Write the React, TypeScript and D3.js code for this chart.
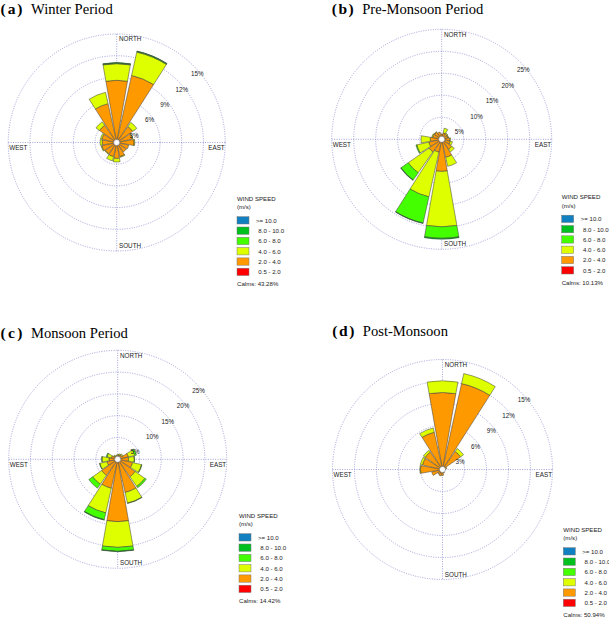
import React from "react";
import * as d3 from "d3";

// ---------------- DATA ----------------
const directions = ["N", "NNE", "NE", "ENE", "E", "ESE", "SE", "SSE", "S", "SSW", "SW", "WSW", "W", "WNW", "NW", "NNW"];
// speed classes from inner (calm side) to outer
const speedClasses = ["0.5 - 2.0", "2.0 - 4.0", "4.0 - 6.0", "6.0 - 8.0", "8.0 - 10.0", ">= 10.0"];
const cardinalLabels = ["NORTH", "EAST", "SOUTH", "WEST"];

// (a) Winter Period (% frequency per direction)
const winter_05_2 = [0, 0, 0, 0, 0, 0, 0, 0, 0, 0, 0, 0, 0, 0, 0, 0];
const winter_2_4 = [8.6, 9.5, 2.7, 2.2, 2.4, 1.7, 1.6, 2.0, 2.2, 2.0, 1.9, 2.1, 2.0, 2.1, 2.9, 5.5];
const winter_4_6 = [2.3, 3.3, 0.7, 0.1, 0.1, 0, 0, 0.1, 0.5, 0.6, 0.1, 0.1, 0.3, 0.2, 0.6, 1.6];
const winter_6_8 = [0.1, 0.1, 0, 0, 0, 0, 0, 0, 0, 0, 0, 0, 0, 0, 0, 0];
const winter_8_10 = [0.05, 0.05, 0, 0, 0, 0, 0, 0, 0, 0, 0, 0, 0, 0, 0, 0];
const winter_10 = [0, 0, 0, 0, 0, 0, 0, 0, 0, 0, 0, 0, 0, 0, 0, 0];
const winterTicks = [3, 6, 9, 12, 15];

// (b) Pre-Monsoon Period
const pre_05_2 = [0, 0, 0, 0, 0, 0, 0, 0, 0, 0, 0, 0, 0, 0, 0, 0];
const pre_2_4 = [1.2, 1.5, 1.5, 1.5, 1.8, 2.0, 2.8, 4.2, 7.3, 3.0, 3.5, 3.0, 2.6, 2.1, 2.0, 1.7];
const pre_4_6 = [0, 1.1, 0.2, 0.1, 0.2, 0.5, 0.7, 2.1, 12.6, 10.4, 5.8, 2.8, 2.1, 0.2, 0.1, 0];
const pre_6_8 = [0, 0, 0, 0, 0, 0, 0, 0, 2.6, 6.1, 2.0, 0.2, 0, 0, 0, 0];
const pre_8_10 = [0, 0, 0, 0, 0, 0, 0, 0, 0.2, 0.1, 0.1, 0, 0, 0, 0, 0];
const pre_10 = [0, 0, 0, 0, 0, 0, 0, 0, 0, 0, 0, 0, 0, 0, 0, 0];
const preTicks = [5, 10, 15, 20, 25];

// (c) Monsoon Period
const mon_05_2 = [0, 0, 0, 0, 0, 0, 0, 0, 0, 0, 0, 0, 0, 0, 0, 0];
const mon_2_4 = [0.8, 1.0, 1.2, 2.5, 2.5, 3.5, 4.9, 7.8, 14.3, 6.8, 4.5, 2.5, 2.0, 1.5, 1.0, 0.8];
const mon_4_6 = [0.3, 0.3, 0.3, 1.5, 1.3, 2.1, 2.7, 2.5, 5.9, 5.8, 2.5, 1.7, 1.6, 1.0, 0.2, 0.1];
const mon_6_8 = [0, 0, 0, 0.4, 0.1, 0.1, 0.4, 0.1, 0.9, 1.6, 1.1, 0.1, 0.1, 0.2, 0, 0];
const mon_8_10 = [0, 0, 0, 0, 0, 0, 0, 0, 0.1, 0.1, 0, 0, 0, 0, 0, 0];
const mon_10 = [0, 0, 0, 0, 0, 0, 0, 0, 0, 0, 0, 0, 0, 0, 0, 0];
const monTicks = [5, 10, 15, 20, 25];

// (d) Post-Monsoon
const post_05_2 = [0, 0, 0, 0, 0, 0, 0, 0, 0, 0, 0, 0, 0, 0, 0, 0];
const post_2_4 = [10.5, 12.0, 3.0, 0.6, 0.4, 0.3, 0.3, 0.5, 0.8, 0.9, 0.8, 1.5, 3.0, 2.8, 2.9, 5.2];
const post_4_6 = [1.6, 1.4, 0.5, 0, 0, 0, 0, 0, 0, 0, 0, 0, 0.1, 0.3, 0.3, 0.6];
const post_6_8 = [0, 0, 0, 0, 0, 0, 0, 0, 0, 0, 0, 0, 0, 0, 0, 0];
const post_8_10 = [0, 0, 0, 0, 0, 0, 0, 0, 0, 0, 0, 0, 0, 0, 0, 0];
const post_10 = [0, 0, 0, 0, 0, 0, 0, 0, 0, 0, 0, 0, 0, 0, 0, 0];
const postTicks = [3, 6, 9, 12, 15];

const calmsValues = ["43.28%", "10.13%", "14.42%", "50.94%"];
const panelLetters = ["(a)", "(b)", "(c)", "(d)"];
const panelTitles = ["Winter Period", "Pre-Monsoon Period", "Monsoon Period", "Post-Monsoon"];

// ---------------- STYLE ----------------
const classColors = ["#ff0000", "#ff9900", "#ddff00", "#44ff00", "#00c020", "#1080c0"];
const ringColor = "#8c8cd0";
const sansFont = "'Liberation Sans', Arial, sans-serif";
const serifFont = "'Liberation Serif', 'Times New Roman', serif";

const panels = [
  {
    series: [winter_05_2, winter_2_4, winter_4_6, winter_6_8, winter_8_10, winter_10],
    ticks: winterTicks, cx: 116.7, cy: 142.5, R: 108.5,
    tx: 0.5, ty: 14, lx: 237, ly: 200.5,
  },
  {
    series: [pre_05_2, pre_2_4, pre_4_6, pre_6_8, pre_8_10, pre_10],
    ticks: preTicks, cx: 441.7, cy: 139.3, R: 110,
    tx: 331.7, ty: 13.5, lx: 561.7, ly: 199,
  },
  {
    series: [mon_05_2, mon_2_4, mon_4_6, mon_6_8, mon_8_10, mon_10],
    ticks: monTicks, cx: 117.7, cy: 459.3, R: 109,
    tx: 0.5, ty: 337.5, lx: 239, ly: 517.5,
  },
  {
    series: [post_05_2, post_2_4, post_4_6, post_6_8, post_8_10, post_10],
    ticks: postTicks, cx: 442.5, cy: 469.5, R: 110,
    tx: 332.3, ty: 336, lx: 563.3, ly: 531.5,
  },
];

const halfWidth = (10 * Math.PI) / 180;
const sector = (2 * Math.PI) / directions.length;

function Rose({ p, i }: { p: any; i: number }) {
  const maxV = p.ticks[p.ticks.length - 1];
  const r = d3.scaleLinear().domain([0, maxV]).range([0, p.R]);
  const arc = d3.arc();
  const segs: any[] = [];
  directions.forEach((dir, di) => {
    let acc = 0;
    const a = di * sector;
    p.series.forEach((s: number[], ci: number) => {
      const v = s[di];
      if (v > 0) {
        segs.push({
          key: `${dir}-${ci}`,
          d: arc({ innerRadius: r(acc), outerRadius: r(acc + v), startAngle: a - halfWidth, endAngle: a + halfWidth } as any),
          fill: classColors[ci],
        });
      }
      acc += v;
    });
  });
  const { cx, cy, R } = p;
  const fs = 6.3;
  return (
    <g>
      {/* title */}
      <text x={p.tx} y={p.ty} fontFamily={serifFont} fontWeight="bold" fontSize={15.5}
        textLength={22} lengthAdjust="spacing">{panelLetters[i]}</text>
      <text x={p.tx + 30.5} y={p.ty} fontFamily={serifFont} fontSize={14.6}>{panelTitles[i]}</text>
      {/* rings */}
      <g transform={`translate(${cx},${cy})`}>
        {p.ticks.map((t: number) => (
          <circle key={t} r={r(t)} fill="none" stroke={ringColor} strokeWidth={0.8} strokeDasharray="1 1.4" />
        ))}
        <line x1={-R} x2={R} y1={0} y2={0} stroke={ringColor} strokeWidth={0.8} strokeDasharray="1 1.4" />
        <line x1={0} x2={0} y1={-R} y2={R} stroke={ringColor} strokeWidth={0.8} strokeDasharray="1 1.4" />
        {segs.map((s) => (
          <path key={s.key} d={s.d} fill={s.fill} stroke="#3a3a3a" strokeWidth={0.5} />
        ))}
        <circle r={3} fill="#ffffff" stroke="#666" strokeWidth={0.5} />
        {p.ticks.map((t: number) => (
          <text key={`l${t}`} x={r(t) * Math.SQRT1_2 - 2.5} y={-r(t) * Math.SQRT1_2 + 10.5}
            fontFamily={sansFont} fontSize={fs} fill="#222">{`${t}%`}</text>
        ))}
        <text x={2.3} y={-R + 7.2} fontFamily={sansFont} fontSize={fs} fill="#222">{cardinalLabels[0]}</text>
        <text x={R - 0.5} y={7.5} textAnchor="end" fontFamily={sansFont} fontSize={fs} fill="#222">{cardinalLabels[1]}</text>
        <text x={2.3} y={R - 3} fontFamily={sansFont} fontSize={fs} fill="#222">{cardinalLabels[2]}</text>
        <text x={-R + 1} y={7.5} fontFamily={sansFont} fontSize={fs} fill="#222">{cardinalLabels[3]}</text>
      </g>
      {/* legend */}
      <g transform={`translate(${p.lx},${p.ly})`} fontFamily={sansFont} fontSize={6.1} fill="#222">
        <text x={0} y={0}>WIND SPEED</text>
        <text x={0} y={8.5}>(m/s)</text>
        {speedClasses.slice().reverse().map((lab, k) => {
          const ci = speedClasses.length - 1 - k;
          const y = 16.2 + k * 10.3;
          return (
            <g key={lab}>
              <rect x={0} y={y} width={12} height={7.3} fill={classColors[ci]} stroke="#777" strokeWidth={0.5} />
              <text x={ci === 5 ? 19 : 21.3} y={y + 6}>{lab}</text>
            </g>
          );
        })}
        <text x={0} y={85.5}>{`Calms: ${calmsValues[i]}`}</text>
      </g>
    </g>
  );
}

export default function App() {
  return (
    <svg width={609} height={623} style={{ position: "absolute", left: 0, top: 0, background: "#fff" }}>
      <rect width={609} height={623} fill="#fff" />
      {panels.map((p, i) => (
        <Rose key={i} p={p} i={i} />
      ))}
    </svg>
  );
}
